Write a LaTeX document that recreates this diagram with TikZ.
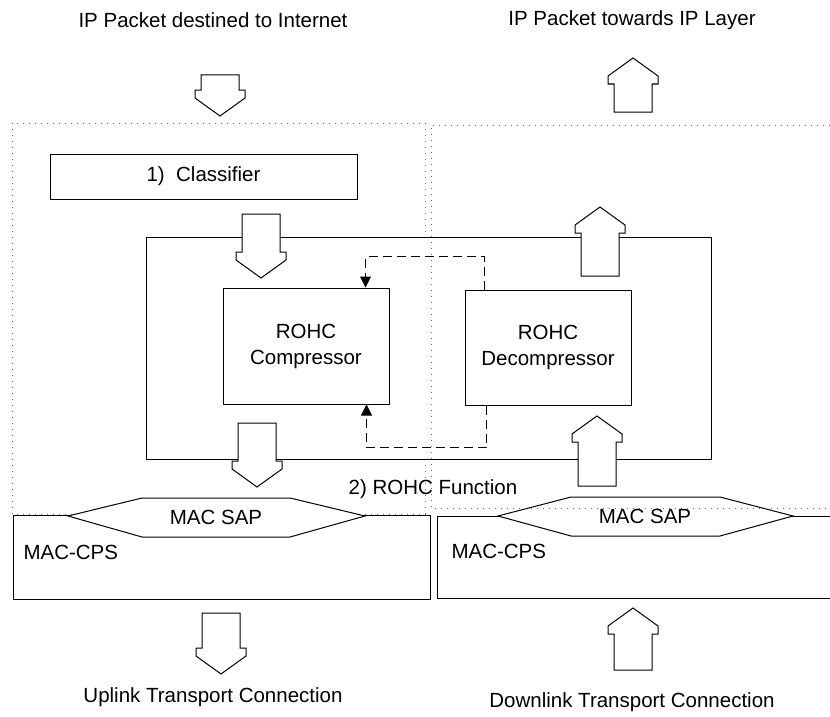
\documentclass[tikz,border=0pt]{standalone}
\usepackage{fontspec}
\setmainfont{Liberation Sans}
\usepackage{tikz}
\usetikzlibrary{arrows.meta}

% hollow block arrow: x, tail y, tip y
\newcommand{\blockarrow}[3]{%
  \pgfmathsetmacro{\arrsgn}{sign(#3-#2)}%
  \draw[blk] (#1-19,#2) -- (#1-19,{#3-\arrsgn*26}) -- (#1-25,{#3-\arrsgn*26})
    -- (#1-25,{#3-\arrsgn*18}) -- (#1,#3) -- (#1+25,{#3-\arrsgn*18})
    -- (#1+25,{#3-\arrsgn*26}) -- (#1+19,{#3-\arrsgn*26}) -- (#1+19,#2) -- cycle;}

\begin{document}
\begin{tikzpicture}[x=1pt,y=-1pt,
	every node/.style={font=\fontsize{20.5}{26}\selectfont},
	box/.style={draw=black,line width=1pt,inner sep=0pt,fill=white},
	blk/.style={draw=black,line width=1pt,fill=white,line join=miter},
	fb/.style={line width=1pt,dash pattern=on 9pt off 5pt,-{Triangle[length=11pt,width=11pt]}},
	zone/.style={draw=black!60,line width=1pt,dash pattern=on 1pt off 5pt}]
		\useasboundingbox (0,0) rectangle (830,717);

		\draw[zone] (12,123) rectangle (425,514);

		\node[box,minimum width=307,minimum height=45] (classifier) at (203.5,176.5) {1)\ \ Classifier};
		\node[box,minimum width=565,minimum height=222] (rohc) at (428.5,348) {};
		\node[box,minimum width=166,minimum height=116,align=center] (comp) at (306,346) {ROHC\\Compressor};
		\node[box,minimum width=166,minimum height=115,align=center] (decomp) at (548,347.5) {ROHC\\Decompressor};

		\draw[fb] ([xshift=20]decomp.north west) -- ++(0,-33) -| ([xshift=-24]comp.north east);
		\draw[fb] ([xshift=22]decomp.south west) -- ++(0,42) -| ([xshift=-23]comp.south east);

		\blockarrow{220}{75}{116}
		\blockarrow{633}{112}{58}
		\blockarrow{261}{214}{278}
		\blockarrow{600}{276}{207}
		\blockarrow{257}{423}{487}
		\blockarrow{597}{486}{416}
		\blockarrow{221}{613}{674}
		\blockarrow{633}{670}{608}

		\node[box,minimum width=417,minimum height=84] (cpsl) at (221.5,557) {};
		\draw[line width=1pt] (830,516) coordinate (cpsrt) -- (437,516) -- (437,598) -- (830,598) coordinate (cpsrb);

		\draw[blk] (68,516) -- (142,498) -- (290,498) -- (365,516) -- (290,537) -- (142,537) -- cycle;
		\draw[blk] (498,516) -- (571,497) -- (720,497) -- (793,516) -- (720,536) -- (571,536) -- cycle;

		\draw[zone] (830,125) -- (431,125) -- (431,508) -- (830,508);

		\node (sapl) at (216,517) {MAC SAP};
		\node (sapr) at (645,516) {MAC SAP};
		\node[anchor=west] (cpsltext) at (20,552) {MAC-CPS};
		\node[anchor=west] (cpsrtext) at (448,551) {MAC-CPS};
		\node (rohctext) at (433,489) {2) ROHC Function};

		\node (inet) at (213,20) {IP Packet destined to Internet};
		\node (iplayer) at (632,20) {IP Packet towards IP Layer};
		\node (uplink) at (213,697) {Uplink Transport Connection};
		\node (downlink) at (632,702) {Downlink Transport Connection};
	\end{tikzpicture}
\end{document}
